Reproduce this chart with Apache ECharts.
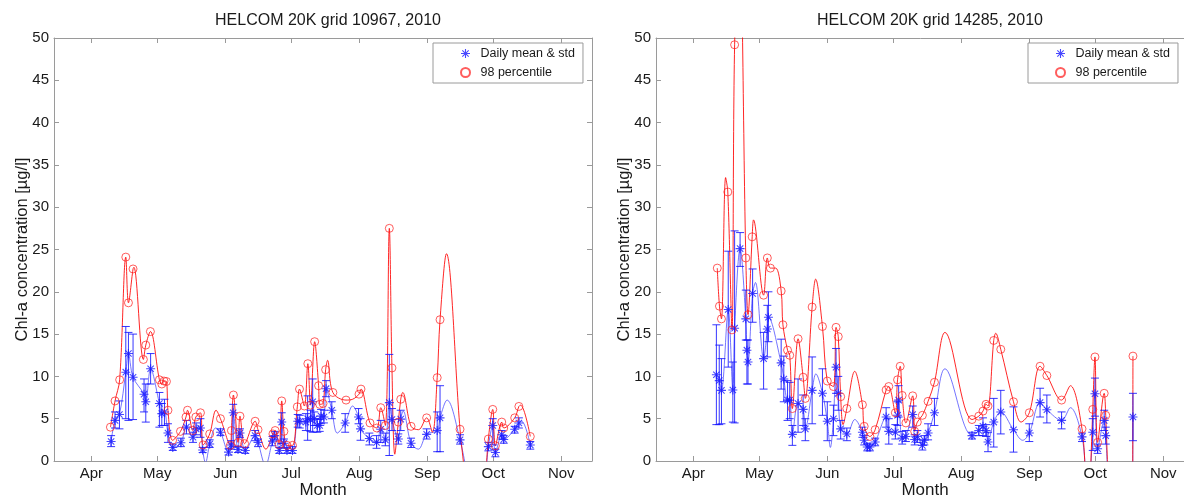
<!DOCTYPE html>
<html>
<head>
<meta charset="utf-8">
<script src="https://cdn.jsdelivr.net/npm/echarts@6/dist/echarts.min.js"></script>
<style>
html,body{margin:0;padding:0;background:#fff;}
#chart{width:1184px;height:497px;}
</style>
</head>
<body>
<div id="chart"></div>
<script>
// x = day of year 2010
var monthTicks = [91, 121, 152, 182, 213, 244, 274, 305];
var monthNames = ['Apr', 'May', 'Jun', 'Jul', 'Aug', 'Sep', 'Oct', 'Nov'];
var titles = ['HELCOM 20K grid 10967, 2010', 'HELCOM 20K grid 14285, 2010'];

// grid 10967: [day, mean, mean-std, mean+std]
var meanL = [
  [100, 2.3, 1.7, 3.0], [101.8, 4.8, 3.9, 5.8], [103.8, 5.5, 3.8, 7.1], [106.7, 10.5, 5.0, 15.9],
  [107.9, 12.7, 4.8, 15.2], [110, 9.9, 4.9, 15.0], [115, 7.9, 5.8, 9.7], [115.8, 7.0, 4.6, 9.1],
  [118, 10.9, 9.1, 12.7], [122, 6.8, 4.0, 8.1], [123.1, 5.6, 4.2, 6.8], [124.3, 5.8, 4.2, 7.3],
  [125.9, 3.3, 2.2, 4.4], [128.1, 1.6, 1.25, 2.0], [131.8, 2.15, 1.7, 2.7], [134.3, 4.0, 3.2, 4.8],
  [137.3, 2.8, 2.2, 3.4], [138.7, 3.8, 3.1, 4.5], [140.7, 3.9, 2.8, 5.0], [141.7, 1.3, 1.0, 1.6],
  [144.9, 2.0, 1.6, 2.5], [149.8, 3.4, 3.0, 3.8], [153.5, 1.05, 0.7, 1.45], [154.7, 1.9, 1.4, 2.4],
  [155.6, 5.7, 1.65, 6.7], [157.8, 1.35, 1.0, 1.7], [158.7, 3.3, 2.8, 3.8], [161.1, 1.25, 0.9, 1.6],
  [165.6, 3.0, 2.4, 3.6], [166.9, 2.2, 1.7, 2.6], [173.5, 2.35, 1.8, 2.9], [174.5, 3.0, 2.5, 3.5],
  [176.6, 1.25, 0.9, 1.6], [177.7, 4.6, 2.05, 5.7], [178.7, 2.1, 1.5, 2.6], [180.1, 1.25, 0.9, 1.6],
  [182.6, 1.25, 0.9, 1.7], [185, 4.7, 4.0, 5.5], [185.9, 4.7, 3.9, 5.4], [188.7, 4.6, 3.6, 5.6],
  [189.5, 5.0, 2.45, 7.7], [190.8, 4.9, 3.5, 6.0], [191.8, 7.0, 3.4, 9.7], [192.5, 5.0, 4.2, 5.8],
  [193.9, 4.2, 3.4, 5.0], [195, 4.2, 3.5, 4.9], [195.6, 5.3, 4.4, 6.1], [196.9, 5.2, 4.5, 6.0],
  [197.9, 8.55, 7.6, 9.5], [200.5, 6.0, 5.0, 7.0], [206.6, 4.5, 3.4, 5.6], [212.7, 5.2, 4.4, 6.2],
  [213.6, 3.8, 2.45, 5.0], [217.6, 2.65, 1.9, 3.3], [220.9, 2.2, 1.5, 3.0], [222.8, 3.75, 2.2, 4.8],
  [224.9, 2.5, 1.8, 3.3], [226.7, 6.9, 0.65, 12.6], [227.9, 4.9, 3.6, 6.2], [230.8, 2.6, 2.0, 3.2],
  [231.9, 4.95, 3.6, 6.0], [236.6, 2.1, 1.6, 2.7], [243.7, 3.15, 2.6, 3.8], [248.5, 3.6, 1.1, 5.8],
  [249.8, 5.1, 1.1, 8.9], [258.9, 2.5, 2.0, 3.1], [271.8, 1.7, 1.2, 2.2], [273.8, 4.2, 1.9, 5.0],
  [275, 1.0, 0.5, 1.4], [277.9, 3.1, 2.6, 3.6], [278.8, 2.55, 2.1, 3.0], [283.8, 3.75, 3.3, 4.1],
  [285.7, 4.5, 3.9, 5.1], [290.9, 1.9, 1.4, 2.3]
];
var p98L = [
  [99.7, 4.0], [101.8, 7.1], [103.9, 9.6], [106.7, 24.1], [107.9, 18.7], [110, 22.7], [114.7, 12.0],
  [115.8, 13.7], [117.9, 15.3], [122, 9.6], [123.1, 9.1], [124.1, 9.45], [125.2, 9.4], [125.9, 6.0],
  [128, 2.45], [131.6, 3.5], [134.1, 5.2], [134.8, 6.0], [137.2, 3.6], [138.6, 5.2], [140.7, 5.7],
  [141.9, 1.9], [144.9, 3.2], [149.8, 5.0], [154.3, 1.85], [154.8, 3.6], [155.7, 7.8], [157.8, 2.2],
  [158.7, 5.3], [160.8, 2.05], [165.6, 4.7], [166.9, 3.7], [173.7, 3.2], [174.7, 3.6], [176.5, 1.95],
  [177.7, 7.1], [178.7, 3.5], [180.1, 1.85], [182.6, 1.85], [184.8, 6.4], [185.8, 8.5], [188, 6.5],
  [189.6, 11.5], [190.8, 6.6], [192.7, 14.1], [194.5, 8.9], [195, 6.7], [196.5, 6.8], [197.7, 10.8],
  [201, 8.1], [207, 7.2], [212.9, 7.9], [213.8, 8.5], [217.9, 4.5], [221, 3.9], [222.8, 6.3],
  [224.9, 4.2], [226.7, 27.5], [227.9, 11.0], [230.8, 4.6], [231.9, 7.3], [236.6, 4.1], [243.7, 5.1],
  [248.5, 9.85], [249.8, 16.7], [258.9, 3.75], [271.8, 2.6], [273.8, 6.1], [275, 1.8], [277.9, 4.6],
  [278.8, 3.9], [283.8, 5.1], [285.7, 6.45], [290.9, 2.9]
];
// extra points of the interpolating curves ('-' = break)
var redCurveL = [
  [110.4, 22.9], [147.8, 6.0], [170.5, 1.4], [198.6, 11.9], [210, 7.3], [229.2, 0.8], [232.8, 8.1],
  [240, 3.7], [246.3, 3.4], [252.7, 24.5], [261.3, -2], [265, '-'], [270.6, -2], [286.5, 6.6]
];
var blueCurveL = [
  [143, -0.2], [147.6, 3.9], [170.3, -0.5], [203, 3.3], [210, 6.5], [233, 5.9], [239.9, 1.4],
  [253, 7.2], [262, -1.5], [265, '-'], [270.8, -1.5], [287, 4.7]
];

// grid 14285
var meanR = [
  [101.5, 10.2, 4.3, 16.1], [102.8, 9.5, 4.3, 13.7], [103.8, 8.35, 4.4, 12.1], [106.9, 17.9, 11.1, 24.8],
  [109, 8.4, 4.6, 11.7], [109.8, 15.7, 4.5, 27.2], [112.3, 25.1, 23.0, 27.0], [114.9, 16.8, 14.3, 20.2],
  [115.4, 13.1, 9.1, 14.3], [115.9, 11.7, 9.1, 14.3], [118, 19.8, 16.4, 22.7], [123, 12.1, 8.5, 15.2],
  [124.7, 15.6, 12.3, 18.4], [125.2, 17.0, 14.1, 20.0], [131, 11.6, 8.5, 14.4], [132.2, 9.7, 7.0, 12.4],
  [133.9, 7.2, 4.8, 9.5], [134.9, 7.2, 5.0, 9.3], [136.1, 3.15, 1.85, 4.2], [138.7, 6.8, 3.4, 9.7],
  [141, 6.1, 4.2, 7.8], [142, 3.8, 2.4, 5.0], [145.1, 8.35, 4.4, 12.3], [149.8, 8.0, 5.4, 10.9],
  [152, 4.7, 2.4, 7.0], [154.8, 5.0, 3.0, 6.6], [156, 11.1, 8.0, 13.3], [157, 8.0, 6.0, 10.0],
  [158.1, 3.8, 2.6, 4.8], [160.9, 3.2, 2.4, 3.9], [168, 3.4, 2.8, 4.0], [168.8, 2.45, 1.9, 3.0],
  [170.2, 1.65, 1.2, 2.1], [171.4, 1.65, 1.2, 2.0], [173.8, 2.25, 1.8, 2.7], [178.8, 5.2, 4.0, 6.3],
  [180, 3.5, 2.0, 5.0], [183, 3.4, 2.6, 4.3], [184, 5.4, 4.2, 7.0], [184.5, 7.2, 5.2, 8.9],
  [186.1, 2.7, 2.0, 3.5], [187.8, 2.9, 2.3, 3.6], [190.9, 5.5, 4.0, 6.5], [191.8, 2.55, 1.9, 3.1],
  [193, 2.9, 2.2, 3.6], [195.3, 1.85, 1.3, 2.5], [196.2, 2.45, 1.9, 3.0], [197.9, 3.3, 2.5, 4.4],
  [200.8, 5.7, 4.2, 7.4], [217.9, 3.0, 2.6, 3.4], [221, 3.6, 3.0, 4.2], [222.9, 4.1, 3.0, 5.1],
  [224.3, 3.6, 2.9, 4.3], [225.2, 2.25, 1.1, 3.4], [227.8, 4.6, 1.65, 7.4], [231, 5.8, 3.2, 8.35],
  [236.8, 3.7, 1.05, 6.4], [244, 3.3, 2.3, 4.4], [248.9, 6.9, 5.2, 8.6], [252, 6.05, 4.5, 7.8],
  [258.7, 4.8, 3.8, 5.8], [268, 2.85, 2.3, 3.3], [272.9, 3.4, 1.25, 5.0], [273.9, 7.95, 5.3, 9.8],
  [275.1, 1.45, 0.9, 2.0], [278.1, 4.8, 3.6, 6.0], [278.8, 3.0, 2.0, 4.0], [291.2, 5.2, 2.4, 8.0]
];
var p98R = [
  [101.9, 22.8], [102.9, 18.3], [103.8, 16.8], [106.7, 31.8], [108.6, 15.5], [109.8, 49.2], [114.9, 24.0],
  [115.9, 17.3], [117.8, 26.5], [123, 19.6], [124.7, 24.0], [126.1, 22.8], [131, 20.1], [131.8, 16.1],
  [133.9, 13.1], [134.9, 12.5], [136.1, 6.2], [138.7, 14.45], [141, 9.9], [142, 7.4], [145.1, 18.2],
  [149.8, 15.9], [152, 9.45], [154.8, 8.8], [156, 15.8], [157, 14.7], [158.1, 7.6], [160.9, 6.2],
  [168, 6.65], [168.8, 4.1], [171.4, 2.9], [173.8, 3.7], [178.8, 8.4], [180, 8.8], [183, 5.7],
  [184, 9.6], [185.2, 11.2], [186.1, 7.75], [187.8, 4.5], [190.9, 7.7], [191.8, 3.5], [193, 4.6],
  [195.3, 5.4], [197.9, 7.05], [200.8, 9.3], [217.9, 4.9], [221, 5.3], [222.9, 5.9], [224.3, 6.7],
  [225.2, 6.5], [227.8, 14.25], [231, 13.2], [236.8, 7.0], [244, 5.7], [248.9, 11.2], [252, 10.1],
  [258.7, 7.2], [268, 3.8], [272.9, 6.1], [273.9, 12.3], [275.1, 2.2], [278.1, 8.0], [278.8, 5.4],
  [291.2, 12.4]
];
var redCurveR = [
  [105.7, 33.5], [112, 62], [118.4, 28.5], [128.5, 22.8], [146.7, 21.5], [159.2, 4.3], [164.5, 10.6],
  [205.6, 15.2], [228.7, 15.1], [240.2, 4.6], [262.7, 8.9], [269.5, -2], [270.5, '-'], [271.8, -2],
  [279.8, -2], [285, '-'], [291.1, -2]
];
var blueCurveR = [
  [119.3, 21.1], [146.8, 10.3], [153.4, 1.6], [164.5, 4.9], [205.6, 10.9], [241, 2.45], [262.7, 6.3],
  [269.5, -1.5], [270.5, '-'], [271.8, -1.5], [279.7, -1.5], [285, '-'], [291.1, -1.5]
];

var FONT = 'Liberation Sans, Arial, sans-serif';
var AXIS = '#9a9a9a';
var TXT = '#1a1a1a';
var ERR = 'rgba(20,20,255,0.85)';
var STAR = 'path://M0 8.8H20V11.2H0Z M8.8 0H11.2V20H8.8Z M2.1 3.8L3.8 2.1L17.9 16.2L16.2 17.9Z M16.2 2.1L17.9 3.8L3.8 17.9L2.1 16.2Z';

function merged(a, b) {
  return a.concat(b).sort(function (p, q) { return p[0] - q[0]; });
}

function errBar(params, api) {
  var x = api.value(0);
  var lo = api.coord([x, api.value(2)]);
  var hi = api.coord([x, api.value(3)]);
  var st = { stroke: ERR, lineWidth: 1 };
  return {
    type: 'group', children: [
      { type: 'line', shape: { x1: lo[0], y1: lo[1], x2: hi[0], y2: hi[1] }, style: st },
      { type: 'line', shape: { x1: lo[0] - 4, y1: lo[1], x2: lo[0] + 4, y2: lo[1] }, style: st },
      { type: 'line', shape: { x1: hi[0] - 4, y1: hi[1], x2: hi[0] + 4, y2: hi[1] }, style: st }
    ]
  };
}

function xAx(g, top) {
  return {
    type: 'value', gridIndex: g, position: top ? 'top' : 'bottom', min: 74, max: 319,
    axisLine: { show: true, onZero: false, lineStyle: { color: AXIS } },
    axisTick: { show: true, inside: true, length: 5, customValues: monthTicks, lineStyle: { color: AXIS } },
    axisLabel: {
      show: !top, customValues: monthTicks, color: TXT, fontSize: 15, margin: 5, fontFamily: FONT,
      formatter: function (v) { return monthNames[monthTicks.indexOf(v)] || ''; }
    },
    splitLine: { show: false },
    name: top ? '' : 'Month', nameLocation: 'middle', nameGap: 21, nameMoveOverlap: false,
    nameTextStyle: { color: TXT, fontSize: 17, fontFamily: FONT }
  };
}

function yAx(g, right) {
  return {
    type: 'value', gridIndex: g, position: right ? 'right' : 'left', min: 0, max: 50, interval: 5,
    axisLine: { show: true, onZero: false, lineStyle: { color: AXIS } },
    axisTick: { show: true, inside: true, length: 5, lineStyle: { color: AXIS } },
    axisLabel: { show: !right, color: TXT, fontSize: 15, margin: 5, fontFamily: FONT },
    splitLine: { show: false },
    name: right ? '' : 'Chl-a concentration [\u00b5g/l]', nameLocation: 'middle', nameGap: 23, nameMoveOverlap: false,
    nameTextStyle: { color: TXT, fontSize: 16.5, fontFamily: FONT }
  };
}

function panel(i, mean, p98, redCurve, blueCurve) {
  var xi = i * 2, yi = i * 2;
  return [
    {
      type: 'line', xAxisIndex: xi, yAxisIndex: yi, z: 1, smooth: 0.35, symbol: 'none', silent: true,
      data: merged(mean.map(function (d) { return [d[0], d[1]]; }), blueCurve),
      lineStyle: { color: 'rgba(70,70,255,0.75)', width: 1 }
    },
    {
      type: 'line', xAxisIndex: xi, yAxisIndex: yi, z: 1, smooth: 0.35, symbol: 'none', silent: true,
      data: merged(p98, redCurve),
      lineStyle: { color: 'rgba(255,0,0,0.85)', width: 1 }
    },
    {
      type: 'custom', xAxisIndex: xi, yAxisIndex: yi, z: 2, renderItem: errBar, clip: true,
      encode: { x: 0, y: [1, 2, 3] }, data: mean
    },
    {
      name: 'Daily mean & std', type: 'scatter', xAxisIndex: xi, yAxisIndex: yi, z: 3,
      symbol: STAR, symbolSize: 9, itemStyle: { color: '#1a1aff' },
      data: mean.map(function (d) { return [d[0], d[1]]; })
    },
    {
      name: '98 percentile', type: 'scatter', xAxisIndex: xi, yAxisIndex: yi, z: 4,
      symbol: 'circle', symbolSize: 8,
      itemStyle: { color: 'rgba(255,255,255,0)', borderColor: 'rgba(255,30,30,0.9)', borderWidth: 1 },
      data: p98
    }
  ];
}

function legendAt(left) {
  return {
    left: left, top: 43, orient: 'vertical', padding: [3, 8, 3, 27], itemGap: 4,
    itemWidth: 20, itemHeight: 9, borderColor: AXIS, borderWidth: 1, backgroundColor: '#fff',
    textStyle: { color: TXT, fontSize: 12.5, lineHeight: 15, fontFamily: FONT },
    data: ['Daily mean & std', '98 percentile'], selectedMode: false
  };
}

var chart = echarts.init(document.getElementById('chart'));
chart.setOption({
  animation: false,
  backgroundColor: '#fff',
  textStyle: { fontFamily: FONT },
  title: [
    { text: titles[0], left: 323, top: 8, textAlign: 'center', textStyle: { fontSize: 16, fontWeight: 'normal', color: TXT, fontFamily: FONT } },
    { text: titles[1], left: 925, top: 8, textAlign: 'center', textStyle: { fontSize: 16, fontWeight: 'normal', color: TXT, fontFamily: FONT } }
  ],
  legend: [legendAt(433), legendAt(1028)],
  grid: [
    { left: 54, top: 38, width: 538, height: 423, containLabel: false, outerBoundsMode: 'none' },
    { left: 656, top: 38, width: 538, height: 423, containLabel: false, outerBoundsMode: 'none' }
  ],
  xAxis: [xAx(0, false), xAx(0, true), xAx(1, false), xAx(1, true)],
  yAxis: [yAx(0, false), yAx(0, true), yAx(1, false), yAx(1, true)],
  series: panel(0, meanL, p98L, redCurveL, blueCurveL).concat(panel(1, meanR, p98R, redCurveR, blueCurveR))
});
</script>
</body>
</html>
